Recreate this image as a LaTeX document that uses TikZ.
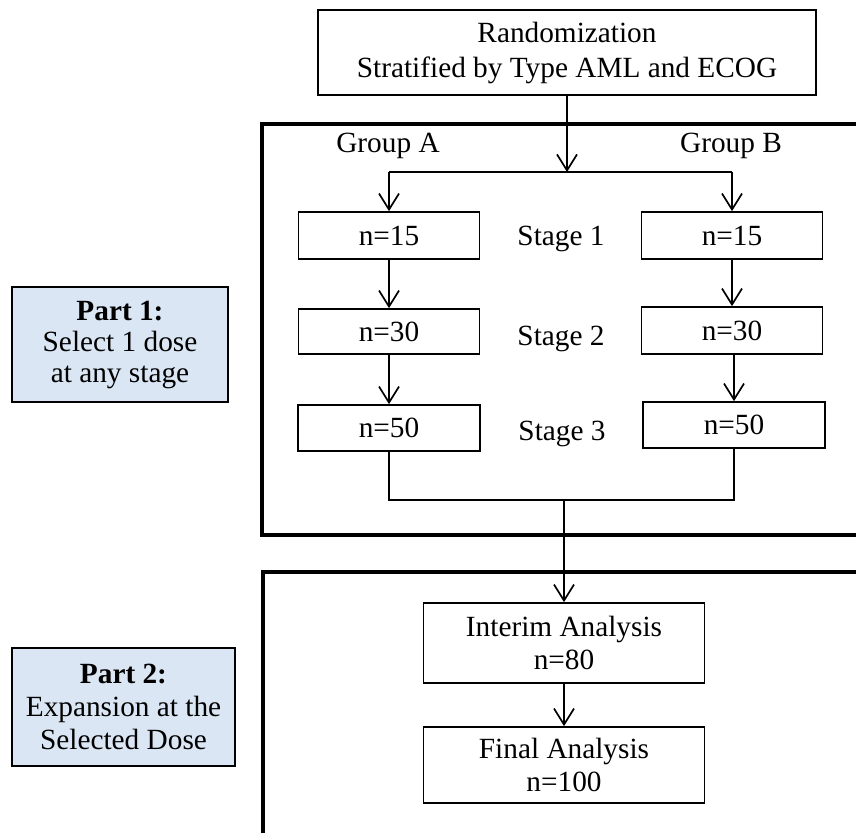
\documentclass[tikz,border=0pt]{standalone}
\usepackage{fontspec}
\setmainfont{Liberation Serif}
\usepackage{xcolor}
\usetikzlibrary{arrows.meta}
\definecolor{partblue}{HTML}{DAE6F3}

\begin{document}
\begin{tikzpicture}[->,>={Straight Barb[length=16pt,width=20pt]},x=1pt,y=-1pt,line width=1.7pt,
    font=\fontsize{29.3pt}{33pt}\selectfont,
    stagebox/.style={rectangle,draw=black,minimum width=181pt,minimum height=46pt,align=center},
    stagelabel/.style={text height=0.7em,text depth=0.22em},
    partbox/.style={rectangle,fill=partblue,draw=black,line width=1.5pt,align=center},
    frame/.style={line width=4pt}]
    \path[use as bounding box] (0,0) rectangle (856,832);
    \clip (0,0) rectangle (856,832);

    \node[stagebox,minimum width=498pt,minimum height=85pt,font=\fontsize{29.3pt}{35pt}\selectfont] (rand) at (567,52.5) {Randomization\\Stratified by Type AML and ECOG};

    % the two parts
    \draw[frame] (262,124) rectangle (900,535);
    \draw[frame] (263,572) rectangle (900,900);
    \node[partbox,minimum width=216pt,minimum height=115pt,font=\fontsize{29.3pt}{31pt}\selectfont] (part1) at (120,344.5) {\textbf{Part 1:}\\Select 1 dose\\at any stage};
    \node[partbox,minimum width=223pt,minimum height=118pt] (part2) at (123.5,707) {\textbf{Part 2:}\\Expansion at the\\Selected Dose};

    \node[stagelabel] (grpA) at (388,150) {Group A};
    \node[stagelabel] (grpB) at (731,150) {Group B};
    \node[stagelabel] (st1) at (561,243) {Stage 1};
    \node[stagelabel] (st2) at (561,343) {Stage 2};
    \node[stagelabel] (st3) at (562,438) {Stage 3};

    \node[stagebox,minimum height=47pt] (a1) at (389,235.5) {n=15};
    \node[stagebox,minimum height=45pt] (a2) at (389,331.5) {n=30};
    \node[stagebox,minimum width=182pt] (a3) at (389,428) {n=50};
    \node[stagebox,minimum height=47pt] (b1) at (732,235.5) {n=15};
    \node[stagebox,minimum height=47pt] (b2) at (732,330.5) {n=30};
    \node[stagebox,minimum width=182pt] (b3) at (734,425) {n=50};

    \node[stagebox,minimum width=281pt,minimum height=80pt] (interim) at (564,643) {Interim Analysis\\n=80};
    \node[stagebox,minimum width=281pt,minimum height=76pt] (final) at (564,765) {Final Analysis\\n=100};

    \coordinate (split) at (567,172);
    \coordinate (merge) at (564,500);

    \draw (rand) -- (split);
    \draw[-] (a1.north |- split) -- (b1.north |- split);
    \draw (a1.north |- split) -- (a1);
    \draw (b1.north |- split) -- (b1);
    \draw (a1) -- (a2);
    \draw (a2) -- (a3);
    \draw (b1) -- (b2);
    \draw (b3.north |- b2.south) -- (b3);
    \draw[-] (a3) |- (merge) -| (b3);
    \draw (merge) -- (interim);
    \draw (interim) -- (final);
\end{tikzpicture}
\end{document}
